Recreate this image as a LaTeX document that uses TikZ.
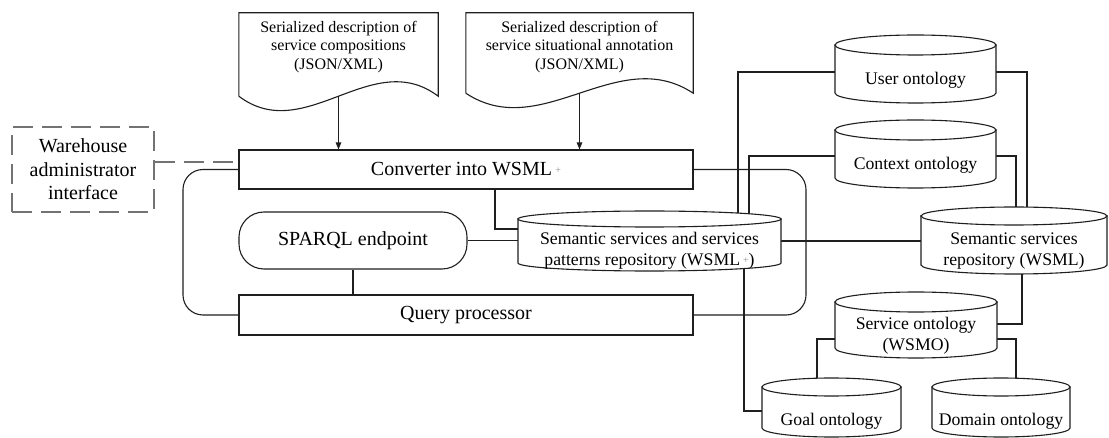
\documentclass[tikz,border=0pt]{standalone}
\usepackage{fontspec}
\setmainfont{Liberation Serif}
\usetikzlibrary{arrows.meta}
\pgfdeclarelayer{bg}
\pgfsetlayers{bg,main}
\newcommand\fsz[2]{\fontsize{#1}{#2}\selectfont}
\newcommand\plusmark{\,\raisebox{2pt}{\fsz{10}{10}\color{black!45}+}}
% invisible node that carries a cylinder's extent
\newcommand\cylnode[5]{%
  \node[cylbox, minimum width={#3-#2}, minimum height={#5-#4}] (#1) at ({(#2+#3)/2},{(#4+#5)/2}) {};}
% cylinder outline: xl xr yt yb ry
\newcommand\cylshape[5]{%
  \draw[ln, fill=white] (#1,#3+#5) -- (#1,#4-#5) arc[start angle=180, end angle=0, x radius={(#2-#1)/2}, y radius=#5] -- (#2,#3+#5) -- cycle;
  \draw[ln, fill=white] ({(#1+#2)/2},#3+#5) ellipse[x radius={(#2-#1)/2}, y radius=#5];}
% document outline with wavy bottom
\newcommand\docshape[2]{%
  \draw[ln] (#1.south west) -- (#1.north west) -- (#1.north east) -- (#1.south east)
    .. controls +({-#2/3},-50) and +({#2/3},50) .. (#1.south west);}
\begin{document}
\begin{tikzpicture}[x=1pt, y=-1pt,
  ln/.style={line width=1.1pt, draw=black!88},
  box/.style={ln, draw, inner sep=0pt, font=\fsz{20}{24}},
  cylbox/.style={draw=none, inner sep=0pt},
  cyltxt/.style={inner sep=0pt, align=center, font=\fsz{17.7}{20.5}},
  doctxt/.style={inner sep=0pt, align=center, font=\fsz{16}{18.5}},
  docbox/.style={draw=none, inner sep=0pt},
  arr/.style={ln, -{Triangle[length=7pt, width=5.5pt]}},
  dsh/.style={line width=1.8pt, draw=black!55, dash pattern=on 20pt off 9pt}]
\useasboundingbox (0,0) rectangle (1109,438);

% ---------- documents ----------
\node[docbox, minimum width=199, minimum height=83] (doc1) at (338.5,54.5) {};
\node[doctxt] (doc1-t) at (338.5,47) {Serialized description of\\service compositions\\(JSON/XML)};
\node[docbox, minimum width=227, minimum height=80] (doc2) at (579.5,53) {};
\node[doctxt] (doc2-t) at (579.5,47) {Serialized description of\\service situational annotation\\(JSON/XML)};
\docshape{doc1}{199}
\docshape{doc2}{227}

% ---------- boxes ----------
\node[box, minimum width=454, minimum height=39] (conv) at (466,169.5) {Converter into WSML\plusmark};
\node[box, minimum width=454, minimum height=40] (qp) at (466,315) {Query processor};
\node[box, rounded corners=25pt, minimum width=228, minimum height=57] (sparql) at (353,240.5) {SPARQL endpoint};
\node[dsh, inner sep=0pt, align=center, font=\fsz{20}{23.5}, minimum width=142, minimum height=85] (wh) at (83,169.5) {Warehouse\\administrator\\interface};

% ---------- cylinder nodes ----------
\cylnode{user}{835}{996}{35}{103}
\cylnode{ctx}{835}{996}{120}{188}
\cylnode{sspr}{518}{781}{211}{271}
\cylnode{ssr}{921}{1107}{207}{274}
\cylnode{svc}{835}{997}{292}{358}
\cylnode{goal}{762}{901}{378}{437}
\cylnode{dom}{932}{1070}{378}{437}

% ---------- connectors (behind shapes) ----------
\begin{pgfonlayer}{bg}
\draw[arr] (doc1.south) -- (doc1.south |- conv.north);
\draw[arr] (doc2.south) -- (doc2.south |- conv.north);
\draw[dsh] (wh.east |- 0,162) -- (conv.west |- 0,162);
\draw[ln, rounded corners=20pt] (conv.west) -- (183,169.5) -- (183,315) -- (qp.west);
\draw[ln, rounded corners=20pt] (conv.east) -- (806,169.5) -- (806,315) -- (qp.east);
\draw[ln] (conv.south -| 495,0) |- (sspr.west |- 0,229);
\draw[ln] (sparql.south -| 353,0) -- (qp.north -| 353,0);
\draw[ln] (sparql.east) -- (sspr.west |- sparql.east);
\draw[ln] (sspr.east |- 0,241) -- (ssr.west |- 0,241);
\draw[ln] (sspr.center -| 738,0) |- (user.west |- 0,72);
\draw[ln] (sspr.center -| 749,0) |- (ctx.west |- 0,156);
\draw[ln] (user.east |- 0,72) -| (ssr.center -| 1027,0);
\draw[ln] (ctx.east |- 0,156) -| (ssr.center -| 1016,0);
\draw[ln] (ssr.center -| 1022,0) |- (svc.east |- 0,324);
\draw[ln] (svc.west |- 0,339) -| (goal.center -| 817,0);
\draw[ln] (svc.east |- 0,339) -| (dom.center -| 1016,0);
\draw[ln] (sspr.center -| 744,0) |- (goal.west |- 0,411);
\end{pgfonlayer}

% ---------- cylinder outlines ----------
\cylshape{835}{996}{35}{103}{10}
\cylshape{835}{996}{120}{188}{10}
\cylshape{518}{781}{211}{271}{8}
\cylshape{921}{1107}{207}{274}{9}
\cylshape{835}{997}{292}{358}{10}
\cylshape{762}{901}{378}{437}{9}
\cylshape{932}{1070}{378}{437}{9}

% ---------- cylinder labels ----------
\node[cyltxt] (user-t) at (915.5,80) {User ontology};
\node[cyltxt] (ctx-t) at (915.5,165) {Context ontology};
\node[cyltxt] (sspr-t) at (649.5,251) {Semantic services and services\\patterns repository (WSML\plusmark)};
\node[cyltxt] (ssr-t) at (1014,251) {Semantic services\\repository (WSML)};
\node[cyltxt] (svc-t) at (916,335.5) {Service ontology\\(WSMO)};
\node[cyltxt] (goal-t) at (831.5,421) {Goal ontology};
\node[cyltxt] (dom-t) at (1001,421) {Domain ontology};
\end{tikzpicture}
\end{document}
